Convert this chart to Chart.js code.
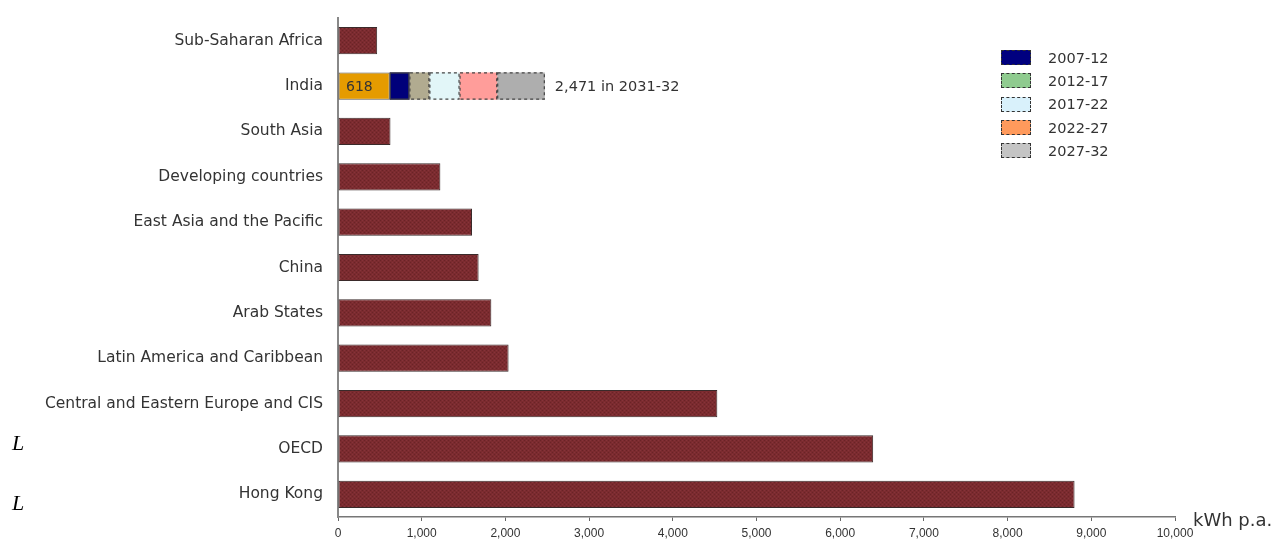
<!DOCTYPE html>
<html>
<head>
<meta charset="utf-8">
<script src="https://cdn.jsdelivr.net/npm/chart.js@4.4.1/dist/chart.umd.min.js"></script>
<style>
  html, body { margin: 0; padding: 0; background: #fff; }
  #wrap { position: relative; width: 1277px; height: 539px; overflow: hidden; }
  #chart { position: absolute; left: 0; top: 0; }
  .mark { position: absolute; left: 12px; font: italic 22px "Liberation Serif", serif; color: #000; }
  #legend { position: absolute; left: 1001px; top: 46px; font: 14.5px "DejaVu Sans", sans-serif; color: #333; }
  #legend .row { height: 23.3px; display: flex; align-items: center; }
  #legend .box { width: 28px; height: 13px; border: 1.5px dashed #333; margin-right: 17px; box-sizing: content-box; }
</style>
</head>
<body>
<div id="wrap">
  <canvas id="chart" width="1277" height="539"></canvas>
  <div class="mark" style="top:430px">L</div>
  <div class="mark" style="top:490px">L</div>
  <div id="legend"></div>
</div>
<script>
// Data
const categories = ['Sub-Saharan Africa', 'India', 'South Asia', 'Developing countries',
  'East Asia and the Pacific', 'China', 'Arab States', 'Latin America and Caribbean',
  'Central and Eastern Europe and CIS', 'OECD', 'Hong Kong'];
const consumption = [468, 618, 627, 1223, 1601, 1680, 1832, 2038, 4532, 6394, 8800];
const periods = ['2007-12', '2012-17', '2017-22', '2022-27', '2027-32'];
const indiaAdditions = [235, 239, 360, 450, 569];
const indiaTarget = 2471;
const indiaTargetYear = '2031-32';
const xMax = 10000;
const xStep = 1000;

const indiaIndex = categories.indexOf('India');
const segColors = ['#00007a', '#b1ab90', '#e2f6f8', '#ff9d9a', '#aeaeae'];
const legendColors = ['#00007f', '#8fcb8f', '#d9f1fb', '#ff9a5c', '#c4c4c4'];

// maroon hatch texture
function makePattern() {
  const c = document.createElement('canvas');
  c.width = 4; c.height = 4;
  const g = c.getContext('2d');
  g.fillStyle = '#7b2b2f';
  g.fillRect(0, 0, 4, 4);
  g.fillStyle = '#6a2327';
  g.fillRect(0, 0, 1, 1);
  g.fillRect(2, 2, 1, 1);
  g.fillStyle = '#86333a';
  g.fillRect(2, 0, 1, 1);
  g.fillRect(0, 2, 1, 1);
  return g.createPattern(c, 'repeat');
}
const maroon = makePattern();

const labelFont = { family: 'DejaVu Sans', size: 15.5 };

const datasets = [{
  label: 'base',
  data: consumption,
  backgroundColor: categories.map((c, i) => i === indiaIndex ? '#e59b00' : maroon),
  borderColor: categories.map((c, i) => i === indiaIndex ? '#555' : '#3a2a2a'),
  borderWidth: 1,
  borderSkipped: false
}];
periods.forEach((p, k) => {
  datasets.push({
    label: p,
    data: categories.map((c, i) => i === indiaIndex ? indiaAdditions[k] : null),
    backgroundColor: segColors[k],
    borderWidth: 0
  });
});

// dashed outlines + text labels
const extras = {
  id: 'extras',
  afterDatasetsDraw(chart) {
    const ctx = chart.ctx;
    const xs = chart.scales.x;
    ctx.save();
    ctx.strokeStyle = '#444';
    ctx.lineWidth = 1.2;
    for (let d = 1; d < chart.data.datasets.length; d++) {
      const el = chart.getDatasetMeta(d).data[indiaIndex];
      const { x, base, y, height } = el.getProps(['x', 'base', 'y', 'height'], true);
      ctx.setLineDash(d === 1 ? [] : [3, 3]);
      ctx.strokeRect(Math.min(x, base) + 0.5, y - height / 2 + 0.5, Math.abs(x - base) - 1, height - 1);
    }
    ctx.setLineDash([]);
    const baseEl = chart.getDatasetMeta(0).data[indiaIndex];
    ctx.fillStyle = '#333';
    ctx.font = '14px "DejaVu Sans"';
    ctx.textBaseline = 'middle';
    ctx.textAlign = 'left';
    ctx.fillText(String(consumption[indiaIndex]), xs.getPixelForValue(0) + 8, baseEl.y + 1);
    ctx.font = '14.5px "DejaVu Sans"';
    ctx.fillText(indiaTarget.toLocaleString('en-US') + ' in ' + indiaTargetYear,
      xs.getPixelForValue(indiaTarget) + 10, baseEl.y + 1);
    ctx.font = '18px "DejaVu Sans"';
    ctx.fillText('kWh p.a.', xs.right + 18, xs.top + 4);
    ctx.restore();
  }
};

new Chart(document.getElementById('chart'), {
  type: 'bar',
  data: { labels: categories, datasets: datasets },
  options: {
    indexAxis: 'y',
    responsive: false,
    animation: false,
    layout: { padding: { top: 18, right: 102, left: 0, bottom: 0 } },
    datasets: { bar: { categoryPercentage: 1, barPercentage: 0.6 } },
    plugins: { legend: { display: false }, tooltip: { enabled: false } },
    scales: {
      x: {
        stacked: true,
        min: 0,
        max: xMax,
        afterFit: s => { s.height = 22; s.paddingLeft = 0; s.paddingRight = 0; },
        grid: { drawOnChartArea: false, color: '#666', tickLength: 4 },
        border: { color: '#777', width: 1.5 },
        ticks: {
          stepSize: xStep,
          padding: 5,
          color: '#333',
          font: { family: 'Liberation Sans', size: 12 },
          callback: v => v.toLocaleString('en-US')
        }
      },
      y: {
        stacked: true,
        afterFit: s => { s.width = 338; s.paddingTop = 0; s.paddingBottom = 0; },
        grid: { drawOnChartArea: false, drawTicks: false },
        border: { color: '#888', width: 2 },
        ticks: { padding: 15, color: '#333', font: labelFont }
      }
    }
  },
  plugins: [extras]
});

// legend
const legend = document.getElementById('legend');
periods.forEach((p, k) => {
  const row = document.createElement('div');
  row.className = 'row';
  const box = document.createElement('span');
  box.className = 'box';
  box.style.background = legendColors[k];
  const txt = document.createElement('span');
  txt.textContent = p;
  row.appendChild(box);
  row.appendChild(txt);
  legend.appendChild(row);
});
</script>
</body>
</html>
